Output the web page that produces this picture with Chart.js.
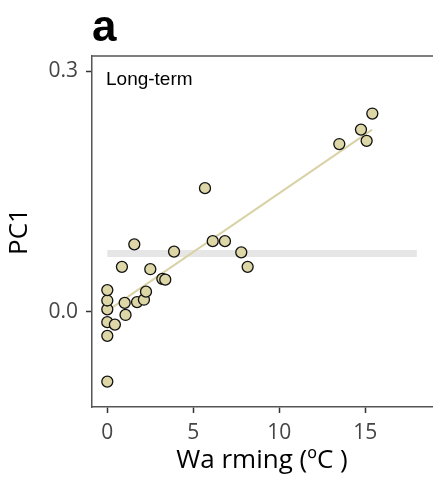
<!DOCTYPE html>
<html>
<head>
<meta charset="utf-8">
<script src="https://cdn.jsdelivr.net/npm/chart.js@4"></script>
<style>
  html, body { margin: 0; padding: 0; background: #fff; overflow: hidden; }
  canvas { display: block; }
</style>
</head>
<body>
<canvas id="pcChart" width="433" height="483"></canvas>
<script>
// values
const warming = [0, 0, 0, 0.44, 0, 0, 0, 1.06, 1.01, 1.73, 2.13, 2.25, 0.85, 1.57,
                 2.5, 3.2, 3.37, 3.88, 5.68, 6.13, 6.84, 7.79, 8.16, 13.49, 14.75, 15.08, 15.41];
const pc1 = [-0.087, -0.030, -0.013, -0.016, 0.003, 0.014, 0.027, -0.004, 0.011, 0.012,
             0.015, 0.025, 0.056, 0.084, 0.053, 0.041, 0.040, 0.075, 0.154, 0.088, 0.088,
             0.074, 0.056, 0.209, 0.227, 0.213, 0.247];
const trendX = [0, 15.4];
const trendY = [0.001, 0.227];
const refX = [0, 18];
const refY = [0.0726, 0.0726];
const xTicks = [0, 5, 10, 15];
const yTicks = [0, 0.3];

const ctx = document.getElementById('pcChart');

const toPoints = (xs, ys) => xs.map((x, i) => ({ x: x, y: ys[i] }));

// panel letter, inset label and top frame line
const panelText = {
    id: 'panelText',
    afterDraw(chart) {
        const c = chart.ctx;
        const area = chart.chartArea;
        c.save();
        c.strokeStyle = '#555';
        c.lineWidth = 1.5;
        c.beginPath();
        c.moveTo(area.left, area.top);
        c.lineTo(area.right + 2, area.top);
        c.stroke();
        c.fillStyle = '#000';
        c.textBaseline = 'alphabetic';
        c.font = 'bold 44px "Liberation Sans", Arial, sans-serif';
        c.fillText('a', 92, 41);
        c.font = '19px "Liberation Sans", Arial, sans-serif';
        c.fillText('Long-term', 106, 85);
        c.restore();
    }
};

new Chart(ctx, {
    type: 'scatter',
    data: {
        datasets: [{
            data: toPoints(warming, pc1),
            backgroundColor: '#ddd6a6',
            borderColor: '#111',
            borderWidth: 1.3,
            pointRadius: 5.5,
        }, {
            data: toPoints(trendX, trendY),
            showLine: true,
            borderColor: '#d9d2a6',
            borderWidth: 2,
            pointRadius: 0,
        }, {
            data: toPoints(refX, refY),
            showLine: true,
            borderColor: '#e6e6e6',
            borderWidth: 7,
            borderCapStyle: 'butt',
            pointRadius: 0,
        }],
    },
    options: {
        responsive: false,
        animation: false,
        devicePixelRatio: 1,
        layout: {
            autoPadding: false,
            padding: { top: 56, right: 1, left: 0, bottom: 0 }
        },
        plugins: {
            legend: { display: false },
            tooltip: { enabled: false }
        },
        scales: {
            x: {
                min: -0.89,
                max: 18.88,
                afterFit: s => { s.height = 76; s.paddingLeft = 0; s.paddingRight = 0; },
                afterBuildTicks: s => { s.ticks = xTicks.map(v => ({ value: v })); },
                grid: { drawOnChartArea: false, tickLength: 6, tickColor: '#333', tickWidth: 1.5 },
                border: { color: '#555', width: 1.5 },
                ticks: {
                    padding: 7,
                    color: '#444',
                    font: { family: 'Open Sans', size: 21 },
                    maxRotation: 0,
                },
                title: {
                    display: true,
                    text: 'Wa rming (ºC )',
                    color: '#000',
                    font: { family: 'Open Sans', size: 26, lineHeight: 1 },
                    padding: { top: 0, bottom: 9 }
                }
            },
            y: {
                min: -0.1187,
                max: 0.3187,
                afterFit: s => { s.width = 92; s.paddingTop = 0; s.paddingBottom = 0; },
                afterBuildTicks: s => { s.ticks = yTicks.map(v => ({ value: v })); },
                grid: { drawOnChartArea: false, tickLength: 6, tickColor: '#333', tickWidth: 1.5 },
                border: { color: '#555', width: 1.5 },
                ticks: {
                    padding: 8,
                    color: '#444',
                    font: { family: 'Open Sans', size: 21 },
                    callback: v => v.toFixed(1)
                },
                title: {
                    display: true,
                    text: 'PC1',
                    color: '#000',
                    font: { family: 'Open Sans', size: 26, lineHeight: 1 },
                    padding: { top: 7, bottom: 0 }
                }
            }
        }
    },
    plugins: [panelText]
});
</script>
</body>
</html>
